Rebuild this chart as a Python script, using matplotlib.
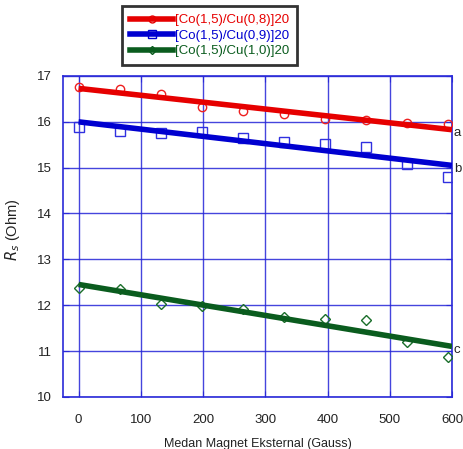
import numpy as np
import matplotlib
matplotlib.use("Agg")
import matplotlib.pyplot as plt
from matplotlib.ticker import MultipleLocator

plt.rcParams['font.family'] = ['Liberation Sans', 'DejaVu Sans']

x_gauss = [0, 66, 132, 198, 264, 330, 396, 462, 528, 594]
rs_08 = [16.76, 16.70, 16.61, 16.32, 16.24, 16.17, 16.05, 16.03, 15.96, 15.94]
rs_09 = [15.88, 15.80, 15.76, 15.77, 15.64, 15.56, 15.52, 15.45, 15.08, 14.79]
rs_10 = [12.38, 12.35, 12.02, 11.99, 11.92, 11.75, 11.70, 11.67, 11.19, 10.87]
labels = ['[Co(1,5)/Cu(0,8)]20', '[Co(1,5)/Cu(0,9)]20', '[Co(1,5)/Cu(1,0)]20']
end_tags = ['a', 'b', 'c']

series = [rs_08, rs_09, rs_10]
line_colors = ['#e60000', '#0000d0', '#0a5c1e']
marker_colors = ['#ee2020', '#3030e0', '#1a6e2a']
markers = ['o', 's', 'D']
msizes = [6, 7, 4.8]

fig = plt.figure(figsize=(4.63, 4.49), dpi=100)
ax = fig.add_axes([63/463, 1-397/449, (452-63)/463, (397-75.7)/449])

xfit = np.array([0, 600])
handles = []
for ys, lc, mc, mk, ms, tag in zip(series, line_colors, marker_colors, markers, msizes, end_tags):
    xs = np.array(x_gauss)
    ya = np.array(ys)
    ax.plot(xs, ya, linestyle='none', marker=mk, mfc='none', mec=mc, ms=ms, mew=1.0, zorder=3)
    p = np.polyfit(xs, ya, 1)
    yfit = np.polyval(p, xfit)
    ax.plot(xfit, yfit, color=lc, lw=4, solid_capstyle='butt', zorder=4)
    ax.text(603, yfit[-1] - 0.08, tag, fontsize=9.5, color='#222222', va='center', ha='left', clip_on=False)
    h, = ax.plot([], [], color=lc, lw=4, marker=mk, mfc='none', mec=lc, ms=ms - 1, mew=1.0)
    handles.append(h)

ax.set_xlim(-25, 600)
ax.set_ylim(10, 17)
ax.xaxis.set_major_locator(MultipleLocator(100))
ax.yaxis.set_major_locator(MultipleLocator(1))
ax.grid(True, color='#2424d8', lw=1.0, alpha=0.85)
ax.set_axisbelow(True)
for s in ax.spines.values():
    s.set_color('#2a2ad8')
    s.set_linewidth(1.2)
ax.tick_params(direction='in', colors='#2a2ad8', labelcolor='#222222', labelsize=9.5, length=4,
               top=True, right=True)
ax.tick_params(axis='x', pad=12)
ax.tick_params(axis='y', pad=8)
ax.set_xlabel('Medan Magnet Eksternal (Gauss)', fontsize=9, color='#222222', labelpad=9)
ax.set_ylabel(r'$R_s$ (Ohm)', fontsize=10.5, color='#222222')
ax.yaxis.set_label_coords(-0.105, 0.52)

leg = fig.legend(handles, labels, loc='upper left', bbox_to_anchor=(122/463, 1-6/449),
                 fontsize=9.5, frameon=True, fancybox=False, handlelength=3.3,
                 handletextpad=0.1, borderpad=0.6, labelspacing=0.25, borderaxespad=0)
leg.get_frame().set_edgecolor('black')
leg.get_frame().set_linewidth(2)
for t, c in zip(leg.get_texts(), line_colors):
    t.set_color(c)

fig.savefig('out.png', dpi=100)
